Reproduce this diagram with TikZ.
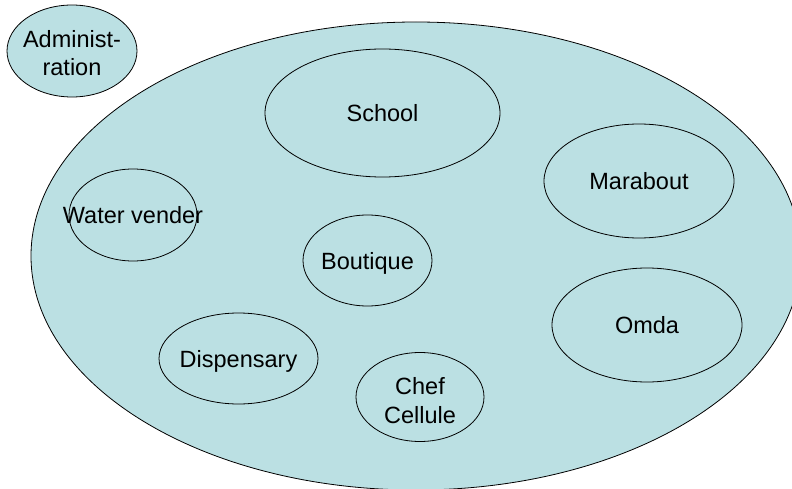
\documentclass[tikz,border=0pt]{standalone}
\usepackage{fontspec}
\setmainfont{Liberation Sans}
\usetikzlibrary{shapes.geometric}
\definecolor{bubblefill}{RGB}{187,224,227}
\tikzset{
  bubble/.style={ellipse, draw=black, line width=0.8pt, fill=bubblefill, inner sep=0pt},
  inner/.style={ellipse, draw=black, line width=0.8pt, inner sep=0pt},
  lbl/.style={font=\fontsize{23.5}{28.5}\selectfont, align=center, inner sep=0pt, text=black}
}
\begin{document}
\begin{tikzpicture}[x=1pt,y=-1pt]
\useasboundingbox (0,0) rectangle (792,489);
\clip (0,0) rectangle (792,489);
% big community ellipse
\node[bubble, minimum width=770pt, minimum height=468pt] (village) at (416,256) {};
% administration
\node[bubble, minimum width=130pt, minimum height=92pt] (admin) at (72,51) {};
\node[lbl] (adminT) at (72,53) {Administ-\\ration};
% inner ellipses
\node[inner, minimum width=235pt, minimum height=128pt] (school) at (382.5,113) {};
\node[lbl, anchor=base] (schoolT) at (382.5,121.5) {School};
\node[inner, minimum width=190pt, minimum height=114pt] (marabout) at (639,181) {};
\node[lbl, anchor=base] (maraboutT) at (639,189.5) {Marabout};
\node[inner, minimum width=128pt, minimum height=92pt] (water) at (133,215) {};
\node[lbl, anchor=base] (waterT) at (133,223) {Water vender};
\node[inner, minimum width=129pt, minimum height=91pt] (boutique) at (367.5,260.5) {};
\node[lbl, anchor=base] (boutiqueT) at (367.5,269) {Boutique};
\node[inner, minimum width=190pt, minimum height=114pt] (omda) at (647,325) {};
\node[lbl, anchor=base] (omdaT) at (647,333.5) {Omda};
\node[inner, minimum width=159pt, minimum height=91pt] (disp) at (238.5,358.5) {};
\node[lbl, anchor=base] (dispT) at (238.5,367) {Dispensary};
\node[inner, minimum width=128pt, minimum height=89pt] (chef) at (420,397) {};
\node[lbl] (chefT) at (420,400.5) {Chef\\Cellule};
\end{tikzpicture}
\end{document}
